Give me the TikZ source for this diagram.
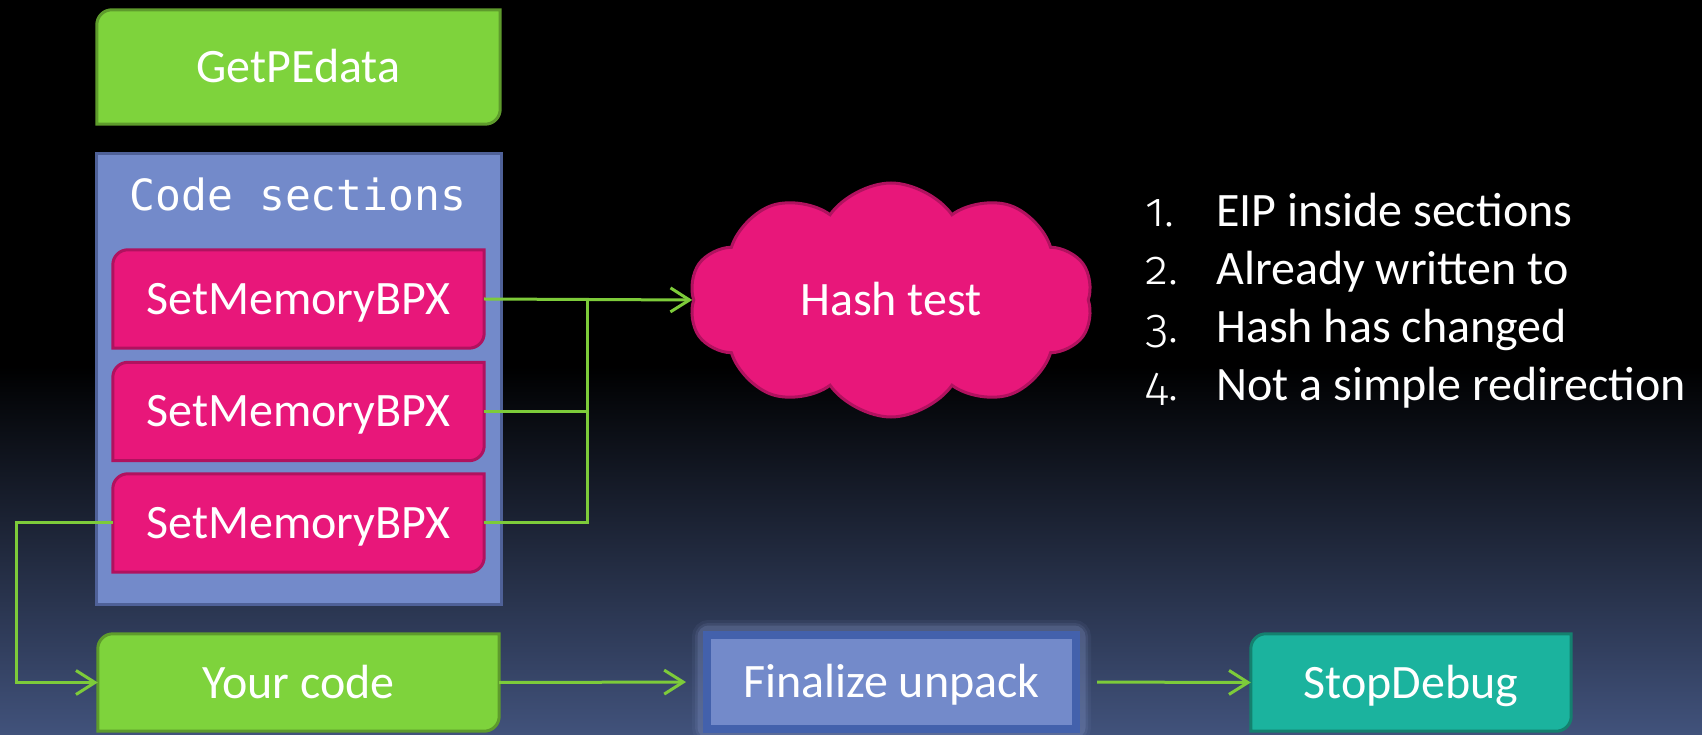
\documentclass[tikz,border=0pt]{standalone}
\usepackage{fontspec}
\setmainfont{Carlito}
\newfontfamily\codefont{DejaVu Sans Mono}
\newfontfamily\numfont[Numbers=OldStyle]{Fira Sans Light}
\usetikzlibrary{shapes.symbols,arrows.meta}

\definecolor{bgbot}{HTML}{41527B}
\definecolor{gfill}{HTML}{7ED33C}
\definecolor{gline}{HTML}{5E9B2C}
\definecolor{pfill}{HTML}{E8177A}
\definecolor{pline}{HTML}{B0125F}
\definecolor{bfill}{HTML}{738ACA}
\definecolor{bline}{HTML}{4F6198}
\definecolor{fline}{HTML}{4361AC}
\definecolor{tfill}{HTML}{1BB39E}
\definecolor{tline}{HTML}{14816F}
\definecolor{wirecol}{HTML}{7DCB3A}
\definecolor{glowcol}{HTML}{8A9CD0}

\pgfdeclarelayer{bg}
\pgfdeclarelayer{boxes}
\pgfsetlayers{bg,boxes,main}

% box with rounded top-left and bottom-right corners, drawn behind a named node
\newcommand\diagcorners[3]{%
  \path[#2] ([xshift=#3]#1.north west) -- (#1.north east)
    -- ([yshift=#3]#1.south east) arc[start angle=0,end angle=-90,radius=#3]
    -- (#1.south west)
    -- ([yshift=-#3]#1.north west) arc[start angle=180,end angle=90,radius=#3]
    -- cycle;}

\tikzset{
  label text/.style={text=white, font=\fontsize{48}{56}\selectfont,
    text height=31pt, text depth=0pt, inner sep=0pt},
  list text/.style={text=white, font=\fontsize{48}{56}\selectfont,
    inner sep=0pt, anchor=base west},
  wire/.style={draw=wirecol, line width=3pt},
  flow/.style={wire, -{Straight Barb[length=19pt,width=24pt,line width=3pt]}},
  greenbox/.style={fill=gfill, draw=gline, line width=3pt},
  pinkbox/.style={fill=pfill, draw=pline, line width=3pt},
  tealbox/.style={fill=tfill, draw=tline, line width=3pt},
}

\begin{document}
\begin{tikzpicture}[x=1pt,y=1pt]
\useasboundingbox (0,0) rectangle (1702,734);

% background
\begin{pgfonlayer}{bg}
  \fill[black] (0,367) rectangle (1702,734);
  \shade[top color=black,bottom color=bgbot] (0,0) rectangle (1702,367.5);
\end{pgfonlayer}

% nodes
\node[label text, minimum width=403pt, minimum height=114pt] (getpe) at (298.5,667) {GetPEdata};
\node[minimum width=404pt, minimum height=450pt, inner sep=0pt] (code) at (299,355) {};
\node[text=white, font=\codefont\fontsize{43}{50}\selectfont, inner sep=0pt,
      text height=31pt, text depth=0pt] (codetitle) at (298,539) {Code sections};
\node[label text, minimum width=371pt, minimum height=98pt] (bpx1) at (298.5,435) {SetMemoryBPX};
\node[label text, minimum width=371pt, minimum height=98pt] (bpx2) at (298.5,322.5) {SetMemoryBPX};
\node[label text, minimum width=371pt, minimum height=98pt] (bpx3) at (298.5,211) {SetMemoryBPX};
\node[cloud, cloud puffs=10, cloud puff arc=110, aspect=1.8, fill=pfill, draw=pline, line width=3pt,
      minimum width=404pt, minimum height=234pt, label text] (hash) at (891,434) {Hash test};
\node[label text, minimum width=401pt, minimum height=97pt] (your) at (298.5,51.5) {Your code};
\node[label text, minimum width=369pt, minimum height=94pt, fill=bfill, draw=fline,
      line width=8pt] (fin) at (891.5,52) {Finalize unpack};
\node[label text, minimum width=320pt, minimum height=97pt] (stop) at (1411,51.5) {StopDebug};

% numbered list
\node[list text] (n1) at (1145,507) {\numfont 1.};
\node[list text] (n2) at (1145,449) {\numfont 2.};
\node[list text] (n3) at (1145,391) {\numfont 3.};
\node[list text] (n4) at (1145,333) {\numfont 4.};
\node[list text] (t1) at (1216,507) {EIP inside sections};
\node[list text] (t2) at (1216,449) {Already written to};
\node[list text] (t3) at (1216,391) {Hash has changed};
\node[list text] (t4) at (1216,333) {Not a simple redirection};

% box outlines
\begin{pgfonlayer}{boxes}
  \diagcorners{getpe}{greenbox}{15pt}
  \draw[fill=bfill, draw=bline, line width=3pt] (code.north west) rectangle (code.south east);
  \diagcorners{bpx1}{pinkbox}{15pt}
  \diagcorners{bpx2}{pinkbox}{15pt}
  \diagcorners{bpx3}{pinkbox}{15pt}
  \diagcorners{your}{greenbox}{15pt}
  \diagcorners{stop}{tealbox}{15pt}
  \foreach \w/\o in {22/0.08,16/0.12,11/0.2}
    \draw[glowcol, line width=\w pt, opacity=\o, rounded corners=6pt]
      (fin.north west) rectangle (fin.south east);
\end{pgfonlayer}

% connectors
\coordinate (bus) at (587,435);
\coordinate (lft) at (16,211);
\draw[flow] (bpx1.east) -- (hash.west);
\draw[wire] (bpx2.east) -| (bus);
\draw[wire] (bpx3.east) -| (bus);
\draw[flow] (bpx3.west) -- (lft) |- (your.west);
\draw[flow, shorten >=17pt] (your.east) -- (fin.west);
\draw[flow, shorten <=17pt] (fin.east) -- (stop.west);
\end{tikzpicture}
\end{document}
